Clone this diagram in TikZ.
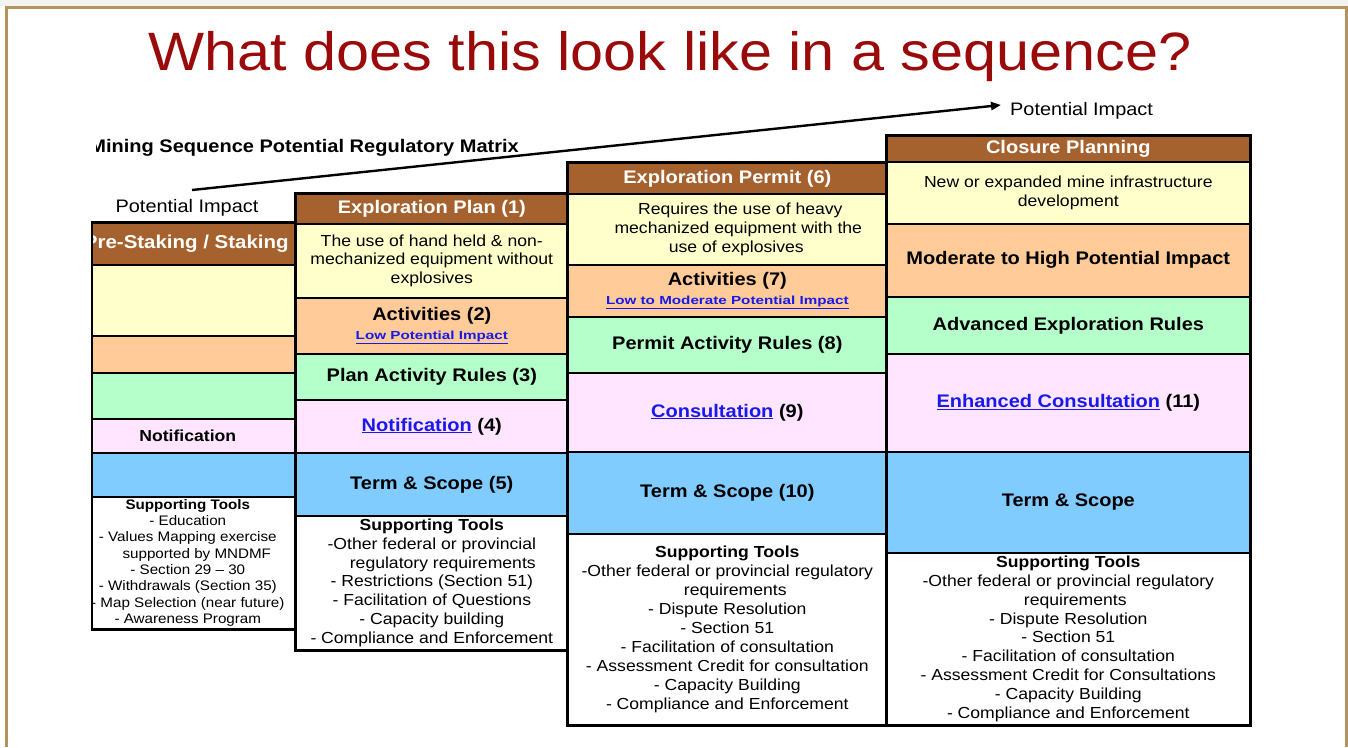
\documentclass[tikz,border=0pt]{standalone}
\usepackage{fontspec}
\setmainfont{Liberation Sans}[FakeStretch=1.1]
\newfontfamily\linkfont{Liberation Sans}[FakeStretch=1.3]
\usetikzlibrary{arrows.meta}

\definecolor{brn}{RGB}{166,98,46}
\definecolor{ylw}{RGB}{255,255,204}
\definecolor{org}{RGB}{255,204,153}
\definecolor{grn}{RGB}{180,255,202}
\definecolor{pnk}{RGB}{255,229,255}
\definecolor{blu}{RGB}{128,204,255}
\definecolor{ttl}{RGB}{155,10,10}
\definecolor{frm}{RGB}{181,147,97}
\definecolor{lnk}{RGB}{25,25,235}
\definecolor{topgrey}{RGB}{243,243,241}

% blue underlined link text
\newcommand{\lnk}[1]{\textcolor{lnk}{\underline{#1}}}
\newcommand{\slnk}[1]{{\linkfont\bfseries\fontsize{11.7}{19}\selectfont\lnk{#1}}}

% one table cell: [style]{name}{x1}{y1}{x2}{y2}{text}
\newcommand{\mcell}[7][]{%
  \node[cell,#1,minimum width={#5-#3},minimum height={#6-#4}] (#2) at (#3,#4) {#7};}

\tikzset{
  cell/.style={draw=black,line width=1.6pt,anchor=north west,inner sep=0pt,
               align=center,text=black},
  hd/.style={fill=brn,text=white,font=\fontsize{18.2}{20}\selectfont\bfseries},
  big/.style={font=\fontsize{18.2}{19}\selectfont\bfseries},
  desc/.style={font=\fontsize{16}{18.6}\selectfont},
  tools/.style={fill=white,font=\fontsize{16}{18.8}\selectfont},
  colframe/.style={draw=black,line width=2.4pt},
  label/.style={font=\fontsize{18.1}{20}\selectfont,inner sep=0pt},
}

\begin{document}
\begin{tikzpicture}[x=1pt,y=-1pt]
\useasboundingbox (0,0) rectangle (1348,747);
\fill[white] (0,0) rectangle (1348,747);
\fill[topgrey] (0,0) rectangle (1348,6);

% slide frame
\draw[frm,line width=3pt] (6,747) -- (6,7) -- (1346,7) -- (1346,747);

% title
\node[anchor=base,text=ttl,font=\fontsize{54}{60}\selectfont,inner sep=0pt]
  (title) at (670,70) {What does this look like in a sequence?};

% impact axis
\node[label] (pil) at (187,208) {Potential Impact};
\node[label,anchor=west] (pir) at (1010,111) {Potential Impact};
\coordinate (axs) at (192,190);
\coordinate (axe) at (1001,105);
\draw[line width=2.4pt,-{Triangle[length=10pt,width=8pt]}] (axs) -- (axe);

% matrix heading, cut at its left end
\begin{scope}
\clip (96,0) rectangle (1348,747);
\node[anchor=east,font=\fontsize{18.2}{20}\selectfont\bfseries,inner sep=0pt]
  (mtitle) at (519,148) {Mining Sequence Potential Regulatory Matrix};
\end{scope}

% first column, cut at its left side
\begin{scope}
\clip (91,0) rectangle (1348,747);
\mcell[hd,font=\fontsize{18.6}{20}\selectfont\bfseries]{c0a}{76}{222}{295}{264}{Pre-Staking / Staking}
\mcell[fill=ylw]{c0b}{76}{264}{295}{335}{}
\mcell[fill=org]{c0c}{76}{335}{295}{372}{}
\mcell[fill=grn]{c0d}{76}{372}{295}{418}{}
\mcell[fill=pnk,font=\fontsize{16}{18}\selectfont\bfseries]{c0e}{79}{418}{295}{452}{Notification}
\mcell[fill=blu]{c0f}{76}{452}{295}{496}{}
\mcell[tools,font=\fontsize{13.8}{16.3}\selectfont]{c0g}{79}{496}{295}{628}{%
  \textbf{Supporting Tools}\\- Education\\- Values Mapping exercise\\
  \hspace*{18pt}supported by MNDMF\\- Section 29 -- 30\\- Withdrawals (Section 35)\\
  - Map Selection (near future)\\- Awareness Program}
\draw[colframe] (c0a.north west) rectangle (c0g.south east);
\end{scope}
\draw[line width=1.4pt] (92,221) -- (92,629);

% second column
\mcell[hd]{c1a}{295}{193}{567}{223}{Exploration Plan (1)}
\mcell[fill=ylw,desc]{c1b}{295}{223}{567}{297}{The use of hand held \& non-\\mechanized equipment without\\explosives}
\mcell[fill=org,big]{c1c}{295}{297}{567}{353}{Activities (2)\\\slnk{Low Potential Impact}}
\mcell[fill=grn,big]{c1d}{295}{353}{567}{399}{Plan Activity Rules (3)}
\mcell[fill=pnk,big]{c1e}{295}{399}{567}{452}{\lnk{Notification} (4)}
\mcell[fill=blu,big]{c1f}{295}{452}{567}{515}{Term \& Scope (5)}
\mcell[tools]{c1g}{295}{515}{567}{649}{%
  \textbf{Supporting Tools}\\-Other federal or provincial\\
  \hspace*{22pt}regulatory requirements\\- Restrictions (Section 51)\\
  - Facilitation of Questions\\- Capacity building\\- Compliance and Enforcement}
\draw[colframe] (c1a.north west) rectangle (c1g.south east);

% third column
\mcell[hd]{c2a}{567}{162}{886}{193}{Exploration Permit (6)}
\mcell[fill=ylw,desc]{c2b}{567}{193}{886}{264}{\hspace*{26pt}Requires the use of heavy\\
  \hspace*{22pt}mechanized equipment with the\\\hspace*{18pt}use of explosives}
\mcell[fill=org,big]{c2c}{567}{264}{886}{316}{Activities (7)\\\slnk{Low to Moderate Potential Impact}}
\mcell[fill=grn,big]{c2d}{567}{316}{886}{372}{Permit Activity Rules (8)}
\mcell[fill=pnk,big]{c2e}{567}{372}{886}{451}{\lnk{Consultation} (9)}
\mcell[fill=blu,big]{c2f}{567}{451}{886}{533}{Term \& Scope (10)}
\mcell[tools,font=\fontsize{16}{19}\selectfont]{c2g}{567}{533}{886}{724}{%
  \textbf{Supporting Tools}\\-Other federal or provincial regulatory\\
  \hspace*{16pt}requirements\\- Dispute Resolution\\- Section 51\\
  - Facilitation of consultation\\- Assessment Credit for consultation\\
  - Capacity Building\\- Compliance and Enforcement}
\draw[colframe] (c2a.north west) rectangle (c2g.south east);

% fourth column
\mcell[hd]{c3a}{886}{135}{1249}{161}{Closure Planning}
\mcell[fill=ylw,desc,font=\fontsize{16}{19}\selectfont]{c3b}{886}{161}{1249}{223}{New or expanded mine infrastructure\\development}
\mcell[fill=org,big]{c3c}{886}{223}{1249}{296}{Moderate to High Potential Impact}
\mcell[fill=grn,big]{c3d}{886}{296}{1249}{353}{Advanced Exploration Rules}
\mcell[fill=pnk,big]{c3e}{886}{353}{1249}{451}{\lnk{Enhanced Consultation} (11)}
\mcell[fill=blu,big]{c3f}{886}{451}{1249}{552}{Term \& Scope}
\mcell[tools]{c3g}{886}{552}{1249}{724}{%
  \textbf{Supporting Tools}\\-Other federal or provincial regulatory\\
  \hspace*{14pt}requirements\\- Dispute Resolution\\- Section 51\\
  - Facilitation of consultation\\- Assessment Credit for Consultations\\
  - Capacity Building\\- Compliance and Enforcement}
\draw[colframe] (c3a.north west) rectangle (c3g.south east);
\end{tikzpicture}
\end{document}
